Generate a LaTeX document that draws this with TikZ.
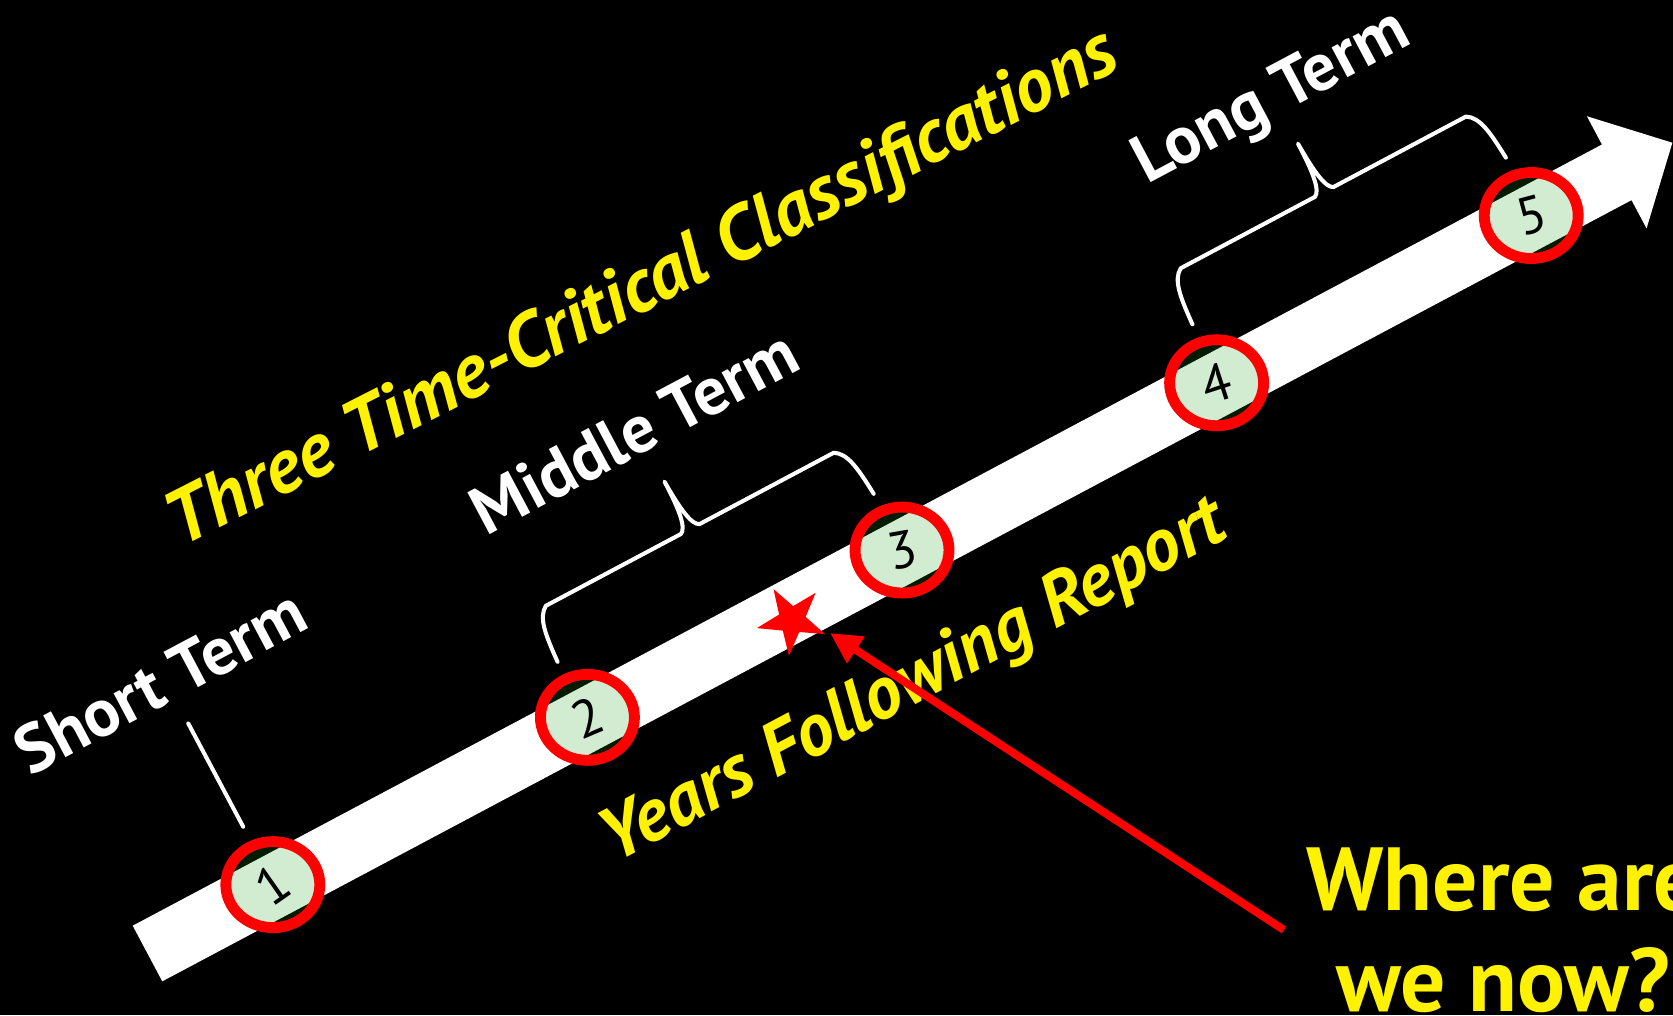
\documentclass[tikz,border=0pt]{standalone}
\usepackage{fontspec}
\setmainfont{PT Sans}
\usetikzlibrary{arrows.meta,shapes.geometric}

\begin{document}
\begin{tikzpicture}[
    x=0.02cm, y=-0.02cm,
    yearmark/.style={
      ellipse,
      draw=red,
      line width=6.2pt,
      fill=green!60!black,
      fill opacity=0.18,
      text opacity=1,
      minimum width=1.88cm,
      minimum height=1.72cm,
      inner sep=0pt
    },
    digit/.style={
      text=black,
      inner sep=0pt,
      font=\fontsize{30}{36}\selectfont
    },
    termlabel/.style={
      anchor=base,
      rotate=28,
      text=white,
      inner sep=0pt,
      font=\fontsize{38.5}{44}\selectfont\bfseries
    },
    headline/.style={
      anchor=base,
      rotate=28,
      text=yellow,
      inner sep=0pt,
      font=\fontsize{42.5}{50}\selectfont\bfseries\itshape
    },
    bracket/.style={draw=white, line width=2.3pt, line cap=round, line join=round},
    pointer/.style={-{Triangle[length=0.62cm, width=0.6cm]}, draw=red, line width=4.5pt}
  ]
    \useasboundingbox (0,0) rectangle (1673,1015);
    \clip (0,0) rectangle (1673,1015);
    \fill[black] (0,0) rectangle (1673,1015);

    % band with the five years on it
    \begin{scope}[shift={(147.5,953.5)}, rotate=28]
      \fill[white] (0,-31.5) -- (1664,-31.5) -- (1664,-63.5) -- (1727,0)
        -- (1664,63.5) -- (1664,31.5) -- (0,31.5) -- cycle;

      \draw[bracket] (144,-67) -- (144,-184);
      \draw[bracket] (499,-65) .. controls (501,-95) and (503,-113) .. (515,-120)
        -- (668,-120) .. controls (675,-123) and (678,-140) .. (678,-174)
        .. controls (679,-140) and (682,-123) .. (689,-120)
        -- (841,-120) .. controls (853,-113) and (855,-95) .. (857,-65);
      \draw[bracket] (1218,-65) .. controls (1220,-95) and (1222,-113) .. (1234,-120)
        -- (1386,-120) .. controls (1393,-123) and (1396,-140) .. (1396,-175)
        .. controls (1397,-140) and (1400,-123) .. (1407,-120)
        -- (1557,-120) .. controls (1569,-113) and (1571,-95) .. (1573,-65);

      \foreach \i/\tilt in {1/35,2/23,3/10,4/18,5/15}
        \node[yearmark, label={[digit, rotate=\tilt]center:\i}] (y\i)
          at ({143+356.3*(\i-1)},-2) {};
    \end{scope}

    \node[termlabel] (short) at (171,702) {Short Term};
    \node[termlabel] (middle) at (645,452) {Middle Term};
    \node[termlabel] (long) at (1280,114) {Long Term};
    \node[headline, rotate=-1, font=\fontsize{43.5}{50}\selectfont\bfseries\itshape]
      (title) at (652,308) {Three Time-Critical Classifications};
    \node[headline] (years) at (923,700) {Years Following Report};

    % star on the band
    \coordinate (now) at (792,620);
    \fill[red] (815.6,592.8) -- (793.2,606.1) -- (773.5,589.1) -- (779.1,614.5)
      -- (756.9,628.1) -- (782.8,630.6) -- (788.9,655.9) -- (799.2,632.0)
      -- (825.1,634.1) -- (805.6,616.9) -- cycle;
    \coordinate (nowtip) at (830,633);

    \node[text=yellow, align=center, inner sep=0.45cm,
      font=\fontsize{51}{57.5}\selectfont\bfseries] (question) at (1503,930) {Where are\\we now?};
    \draw[pointer] (question.west) -- (nowtip);
  \end{tikzpicture}
\end{document}
